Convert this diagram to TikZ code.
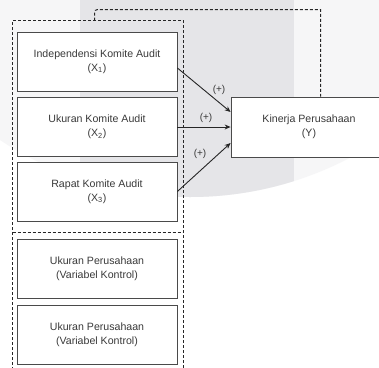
\documentclass[tikz,border=0pt]{standalone}
\usepackage{fontspec}
\setmainfont{Liberation Sans}
\usetikzlibrary{arrows.meta}
\definecolor{txt}{HTML}{3A3A3A}
\definecolor{edge}{HTML}{4A4A4A}
\definecolor{circ}{HTML}{F6F6F7}
\definecolor{band}{HTML}{E5E5E8}
\tikzset{
  box/.style={draw=edge, line width=0.8pt, fill=white, minimum width=160pt, minimum height=59pt,
    align=center, text=txt, font=\fontsize{10.6}{14}\selectfont, inner sep=0pt},
  grp/.style={draw=black!85, line width=1pt, dash pattern=on 3pt off 2pt},
  arr/.style={draw=black!85, line width=0.9pt, -{Stealth[length=6pt,width=5pt]}},
  sign/.style={text=txt, font=\fontsize{10}{12}\selectfont, inner sep=0pt}
}
\begin{document}
\begin{tikzpicture}[x=1pt,y=-1pt]
\useasboundingbox (0,0) rectangle (379,367);
\clip (0,0) rectangle (379,367);
% background
\fill[white] (0,0) rectangle (379,367);
\begin{scope}
  \clip (190,-148) circle (345);
  \fill[circ] (0,0) rectangle (379,367);
  \fill[band] (80,0) rectangle (294,367);
\end{scope}
% dashed groups
\draw[grp] (12.5,370) -- (12.5,20.5) -- (183.5,20.5) -- (183.5,370);
\draw[grp] (12.5,232.5) -- (183.5,232.5);
% boxes
\node[box] (x1) at (97,61.5) {Independensi Komite Audit\\(X\textsubscript{1})};
\node[box] (x2) at (97,127) {Ukuran Komite Audit\\(X\textsubscript{2})};
\node[box] (x3) at (97,191.5) {Rapat Komite Audit\\(X\textsubscript{3})};
\node[box] (c1) at (97,269) {Ukuran Perusahaan\\(Variabel Kontrol)};
\node[box] (c2) at (97,334.5) {Ukuran Perusahaan\\(Variabel Kontrol)};
\node[box, minimum width=156pt, minimum height=60pt] (y) at (309,127) {Kinerja Perusahaan\\(Y)};
% upper dashed group line
\coordinate (g1) at (94.5,20.5);
\coordinate (g2) at ([xshift=11.5pt]y.north);
\draw[grp] (g1) -- (94.5,12.5) to[out=90,in=180] (97.5,9.5) -- (g2 |- 0,9.5) -- (g2);
% arrows
\draw[arr] ([yshift=-6.5pt]x1.east) -- ([yshift=15pt]y.west);
\draw[arr] (x2.east) -- (y.west);
\draw[arr] (x3.east) -- ([yshift=-16pt]y.west);
% labels
\node[sign] (s1) at (219,90) {(+)};
\node[sign] (s2) at (206,118) {(+)};
\node[sign] (s3) at (200,154) {(+)};
\end{tikzpicture}
\end{document}
